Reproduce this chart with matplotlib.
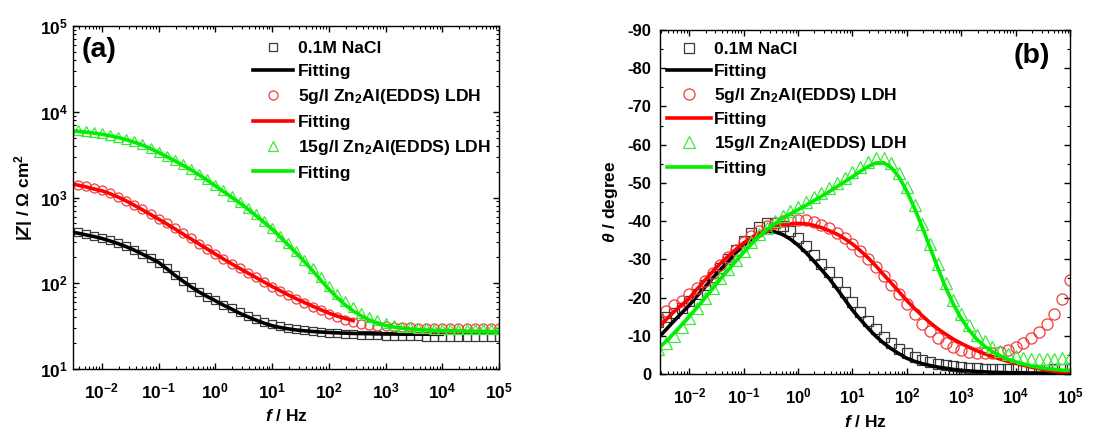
import numpy as np
import matplotlib
matplotlib.use("Agg")
import matplotlib.pyplot as plt
from matplotlib.ticker import LogLocator, MultipleLocator, NullFormatter

nan = np.nan

# ---------------- data ----------------
freq = [1e5, 7.197e4, 5.179e4, 3.728e4, 2.683e4, 1.931e4, 1.389e4,
        1e4, 7197, 5179, 3728, 2683, 1931, 1389,
        1000, 719.7, 517.9, 372.8, 268.3, 193.1, 138.9,
        100, 71.97, 51.79, 37.28, 26.83, 19.31, 13.89,
        10, 7.197, 5.179, 3.728, 2.683, 1.931, 1.389,
        1, 0.7197, 0.5179, 0.3728, 0.2683, 0.1931, 0.1389,
        0.1, 0.07197, 0.05179, 0.03728, 0.02683, 0.01931, 0.01389,
        0.01, 0.007197, 0.005179, 0.003728, 0.002683]

# |Z| (ohm cm2)
z_nacl = [23.6, 23.6, 23.6, 23.7, 23.7, 23.7, 23.8,
          23.8, 23.9, 23.9, 24.0, 24.1, 24.2, 24.3,
          24.4, 24.6, 24.8, 25.0, 25.3, 25.6, 26.0,
          26.5, 27.0, 27.6, 28.3, 29.2, 30.2, 31.5,
          33.2, 35.5, 38.5, 42.0, 46.0, 51.0, 56.5,
          63, 70, 79, 91, 106, 125, 149,
          174, 197, 221, 245, 270, 293, 316,
          338, 357, 375, 395, 410]
zfit_nacl = [nan, nan, nan, nan, nan, nan, nan,
             25.4, 25.4, 25.5, 25.5, 25.5, 25.5, 25.6,
             25.6, 25.7, 25.8, 25.9, 26.0, 26.2, 26.4,
             26.7, 27.0, 27.4, 27.9, 28.5, 29.4, 30.5,
             32.0, 34.3, 37.2, 40.7, 44.7, 50.1, 55.6,
             62.5, 70, 79, 91, 106, 124, 148,
             175, 196, 219, 243, 267, 290, 312,
             333, 351, 367, 385, 398]
z_5g = [29.8, 29.8, 29.9, 29.9, 29.9, 30.0, 30.0,
        30.1, 30.2, 30.3, 30.4, 30.6, 30.8, 31.1,
        31.5, 32.1, 32.9, 33.9, 35.4, 37.6, 40.5,
        44.0, 48.5, 53.5, 59.0, 65.5, 73.0, 81.5,
        91.5, 103, 117, 132, 149, 170, 193,
        221, 253, 290, 333, 381, 437, 498,
        567, 643, 727, 822, 921, 1022, 1120,
        1210, 1275, 1350, 1415, 1475]
zfit_5g = [nan, nan, nan, nan, nan, nan, nan,
           nan, nan, nan, nan, nan, nan, nan,
           nan, nan, nan, nan, 36.7, 38.9, 41.5,
           44.9, 49.2, 54.1, 59.6, 65.8, 73.3, 81.8,
           91.8, 103.5, 117, 132, 149, 169, 192,
           219, 251, 287, 329, 376, 431, 492,
           560, 635, 719, 813, 912, 1012, 1109,
           1197, 1259, 1334, 1396, 1455]
z_15g = [29.5, 29.4, 29.4, 29.3, 29.3, 29.3, 29.4,
         29.4, 29.5, 29.7, 30.0, 30.5, 31.3, 32.5,
         34.3, 36.8, 40.5, 45.5, 52.5, 62.0, 75.5,
         94, 119, 150, 189, 236, 292, 360,
         442, 532, 637, 757, 890, 1038, 1208,
         1405, 1630, 1885, 2155, 2440, 2750, 3080,
         3430, 3820, 4190, 4530, 4840, 5140, 5380,
         5610, 5780, 5930, 6070, 6200]
zfit_15g = [27.3, 27.4, 27.5, 27.6, 27.7, 27.8, 27.9,
            28.0, 28.2, 28.5, 28.8, 29.3, 30.0, 30.9,
            32.2, 34.3, 37.3, 41.7, 47.6, 56.2, 68.4,
            85.5, 109, 140, 178, 224, 279, 347,
            428, 515, 617, 735, 865, 1009, 1175,
            1368, 1589, 1837, 2099, 2377, 2679, 2999,
            3342, 3724, 4083, 4416, 4721, 5012, 5248,
            5470, 5636, 5781, 5916, 6040]

# phase angle (degree)
th_nacl = [-1.3, -1.2, -1.2, -1.1, -1.1, -1.1, -1.1,
           -1.2, -1.2, -1.3, -1.3, -1.4, -1.5, -1.6,
           -1.8, -2.0, -2.3, -2.6, -3.1, -3.7, -4.5,
           -5.4, -6.6, -8.0, -9.7, -11.7, -13.9, -16.3,
           -18.8, -21.5, -24.1, -26.6, -28.9, -31.2, -33.4,
           -35.5, -37.4, -38.8, -39.6, -39.4, -38.4, -36.8,
           -34.8, -32.5, -30.2, -27.8, -25.5, -23.2, -21.0,
           -19.0, -17.3, -16.0, -15.0, -13.5]
thfit_nacl = [-0.2, -0.2, -0.2, -0.2, -0.25, -0.25, -0.3,
              -0.3, -0.35, -0.4, -0.45, -0.55, -0.65, -0.8,
              -0.95, -1.2, -1.5, -1.8, -2.2, -2.7, -3.3,
              -4.1, -5.3, -6.6, -8.1, -9.9, -12.0, -14.3,
              -16.7, -19.5, -22.3, -25.0, -27.3, -29.6, -31.8,
              -33.7, -35.3, -36.5, -37.2, -37.3, -36.6, -35.3,
              -33.7, -31.7, -29.4, -27.3, -25.1, -22.7, -20.4,
              -18.0, -15.9, -13.8, -11.6, -9.4]
th_5g = [-24.6, -19.5, -15.8, -13.2, -11.0, -9.3, -8.0,
         -7.0, -6.3, -5.8, -5.5, -5.4, -5.5, -5.8,
         -6.3, -7.1, -8.2, -9.5, -11.2, -13.2, -15.6,
         -18.2, -20.8, -23.2, -25.6, -28.0, -30.2, -32.3,
         -34.1, -35.7, -37.0, -38.1, -39.0, -39.7, -40.2,
         -40.4, -40.3, -40.0, -39.4, -38.6, -37.5, -36.1,
         -34.4, -32.5, -30.5, -28.4, -26.3, -24.3, -22.5,
         -20.8, -19.2, -18.0, -16.5, -15.0]
thfit_5g = [-0.3, -0.5, -0.7, -1.0, -1.4, -1.8, -2.3,
            -2.8, -3.3, -3.9, -4.6, -5.3, -6.1, -7.0,
            -8.0, -9.1, -10.4, -11.8, -13.4, -15.2, -17.1,
            -19.2, -21.5, -23.8, -26.0, -28.3, -30.4, -32.3,
            -34.0, -35.4, -36.6, -37.5, -38.3, -38.9, -39.3,
            -39.4, -39.3, -39.0, -38.5, -37.8, -36.9, -35.7,
            -34.3, -32.6, -30.8, -28.9, -26.8, -24.5, -22.2,
            -19.8, -18.0, -16.2, -14.2, -12.0]
th_15g = [-4.5, -4.1, -3.9, -3.8, -3.8, -3.9, -4.2,
          -4.6, -5.2, -6.0, -7.1, -8.5, -10.3, -12.7,
          -15.7, -19.4, -23.8, -28.8, -34.0, -39.2, -44.2,
          -48.8, -52.6, -55.2, -56.5, -56.4, -55.5, -54.2,
          -52.8, -51.4, -50.0, -48.7, -47.4, -46.2, -45.0,
          -43.8, -42.6, -41.3, -39.9, -38.3, -36.5, -34.4,
          -32.2, -29.9, -27.5, -25.0, -22.4, -19.8, -17.2,
          -14.7, -12.3, -10.0, -8.0, -6.5]
thfit_15g = [-0.9, -1.0, -1.2, -1.4, -1.7, -2.1, -2.6,
             -3.2, -3.9, -4.8, -5.9, -7.3, -9.1, -11.5,
             -14.5, -18.2, -22.6, -27.7, -33.0, -38.3, -43.3,
             -47.8, -51.5, -54.0, -55.3, -55.2, -54.3, -53.0,
             -51.6, -50.3, -49.0, -47.7, -46.5, -45.3, -44.1,
             -43.0, -41.9, -40.7, -39.3, -37.8, -36.0, -34.0,
             -31.8, -29.5, -27.2, -24.8, -22.3, -19.8, -17.4,
             -15.0, -12.8, -10.6, -8.5, -6.7]

labels = ["0.1M NaCl", "Fitting", "5g/l Zn$_2$Al(EDDS) LDH", "Fitting",
          "15g/l Zn$_2$Al(EDDS) LDH", "Fitting"]
x_major = [1e-2, 1e-1, 1e0, 1e1, 1e2, 1e3, 1e4, 1e5]

# ---------------- style ----------------
plt.rcParams.update({
    "font.family": ["Liberation Sans", "DejaVu Sans"],
    "font.weight": "bold",
    "axes.unicode_minus": False,
    "mathtext.fontset": "custom",
    "mathtext.rm": "Liberation Sans:weight=bold",
    "mathtext.it": "Liberation Sans:style=italic:weight=bold",
    "mathtext.bf": "Liberation Sans:weight=bold",
    "mathtext.sf": "Liberation Sans:weight=bold",
    "mathtext.default": "regular",
    "xtick.direction": "in", "ytick.direction": "in",
    "xtick.top": True, "ytick.right": True,
    "axes.linewidth": 1.0,
})

C_BLK_M, C_BLK = "#3a3a3a", "#000000"
C_RED_M, C_RED = "#f03c3c", "#ff0000"
C_GRN_M, C_GRN = "#3de83d", "#00ee00"

fig = plt.figure(figsize=(11.03, 4.32), dpi=100)
axA = fig.add_axes([0.0662, 0.1458, 0.3862, 0.7940])
axB = fig.add_axes([0.5984, 0.1343, 0.3717, 0.7963])

LEG_FS = 12.6

# ---------------- panel (a) ----------------
axA.loglog(freq, z_nacl, "s", mfc="none", mec=C_BLK_M, ms=6, mew=0.9, label=labels[0])
axA.loglog(freq, zfit_nacl, "-", color=C_BLK, lw=2.6, label=labels[1])
axA.loglog(freq, z_5g, "o", mfc="none", mec=C_RED_M, ms=6.5, mew=0.9, label=labels[2])
axA.loglog(freq, zfit_5g, "-", color=C_RED, lw=2.6, label=labels[3])
axA.loglog(freq, z_15g, "^", mfc="none", mec=C_GRN_M, ms=7.5, mew=0.9, label=labels[4])
axA.loglog(freq, zfit_15g, "-", color=C_GRN, lw=2.6, label=labels[5])

axA.set_xlim(3.1e-3, 1e5)
axA.set_ylim(10, 1e5)
axA.set_xticks(x_major)
axA.xaxis.set_minor_locator(LogLocator(base=10, subs=np.arange(2, 10), numticks=30))
axA.xaxis.set_minor_formatter(NullFormatter())
axA.yaxis.set_major_locator(LogLocator(base=10, numticks=30))
axA.yaxis.set_minor_locator(LogLocator(base=10, subs=np.arange(2, 10), numticks=30))
axA.yaxis.set_minor_formatter(NullFormatter())
axA.tick_params(which="major", length=4.5, width=1, labelsize=12.5)
axA.tick_params(axis="x", which="major", pad=9)
axA.tick_params(axis="y", which="major", pad=3.5)
axA.tick_params(which="minor", length=2.2, width=0.8)
axA.set_xlabel(r"$\mathit{f}$ / Hz", fontsize=12.5, fontweight="bold")
axA.set_ylabel(r"|$\mathit{Z}$| / Ω cm$^2$", fontsize=12.5, fontweight="bold")
axA.xaxis.set_label_coords(0.5, -0.115)
axA.yaxis.set_label_coords(-0.09, 0.5)
axA.text(0.021, 0.93, "(a)", transform=axA.transAxes, fontsize=20.5,
         fontweight="bold", ha="left", va="center")
axA.legend(loc="upper left", bbox_to_anchor=(0.4225, 0.958), frameon=False,
           fontsize=LEG_FS, handlelength=2.3, handletextpad=0.25, labelspacing=0.47,
           borderpad=0, borderaxespad=0, numpoints=1)

# ---------------- panel (b) ----------------
axB.semilogx(freq, th_nacl, "s", mfc="none", mec=C_BLK_M, ms=7.5, mew=0.9, label=labels[0])
axB.semilogx(freq, thfit_nacl, "-", color=C_BLK, lw=2.6, label=labels[1])
axB.semilogx(freq, th_5g, "o", mfc="none", mec=C_RED_M, ms=8, mew=0.9, label=labels[2])
axB.semilogx(freq, thfit_5g, "-", color=C_RED, lw=2.6, label=labels[3])
axB.semilogx(freq, th_15g, "^", mfc="none", mec=C_GRN_M, ms=9, mew=0.9, label=labels[4])
axB.semilogx(freq, thfit_15g, "-", color=C_GRN, lw=2.6, label=labels[5])

axB.set_xlim(2.9e-3, 1e5)
axB.set_ylim(0, -90)
axB.set_xticks(x_major)
axB.xaxis.set_minor_locator(LogLocator(base=10, subs=np.arange(2, 10), numticks=30))
axB.xaxis.set_minor_formatter(NullFormatter())
axB.set_yticks(np.arange(0, -91, -10))
axB.yaxis.set_minor_locator(MultipleLocator(5))
axB.tick_params(which="major", length=4.5, width=1, labelsize=12)
axB.tick_params(axis="x", which="major", pad=9)
axB.tick_params(axis="y", which="major", pad=6)
axB.tick_params(which="minor", length=2.2, width=0.8)
axB.set_xlabel(r"$\mathit{f}$ / Hz", fontsize=12.5, fontweight="bold")
axB.set_ylabel(r"$\mathit{θ}$ / degree", fontsize=12.5, fontweight="bold")
axB.xaxis.set_label_coords(0.5, -0.117)
axB.yaxis.set_label_coords(-0.098, 0.5)
axB.text(0.951, 0.924, "(b)", transform=axB.transAxes, fontsize=20.5,
         fontweight="bold", ha="right", va="center")
axB.legend(loc="upper left", bbox_to_anchor=(0.017, 0.966), frameon=False,
           fontsize=LEG_FS, handlelength=2.5, handletextpad=0.2, labelspacing=0.40,
           borderpad=0, borderaxespad=0, numpoints=1)

fig.savefig("out.png", dpi=100)
